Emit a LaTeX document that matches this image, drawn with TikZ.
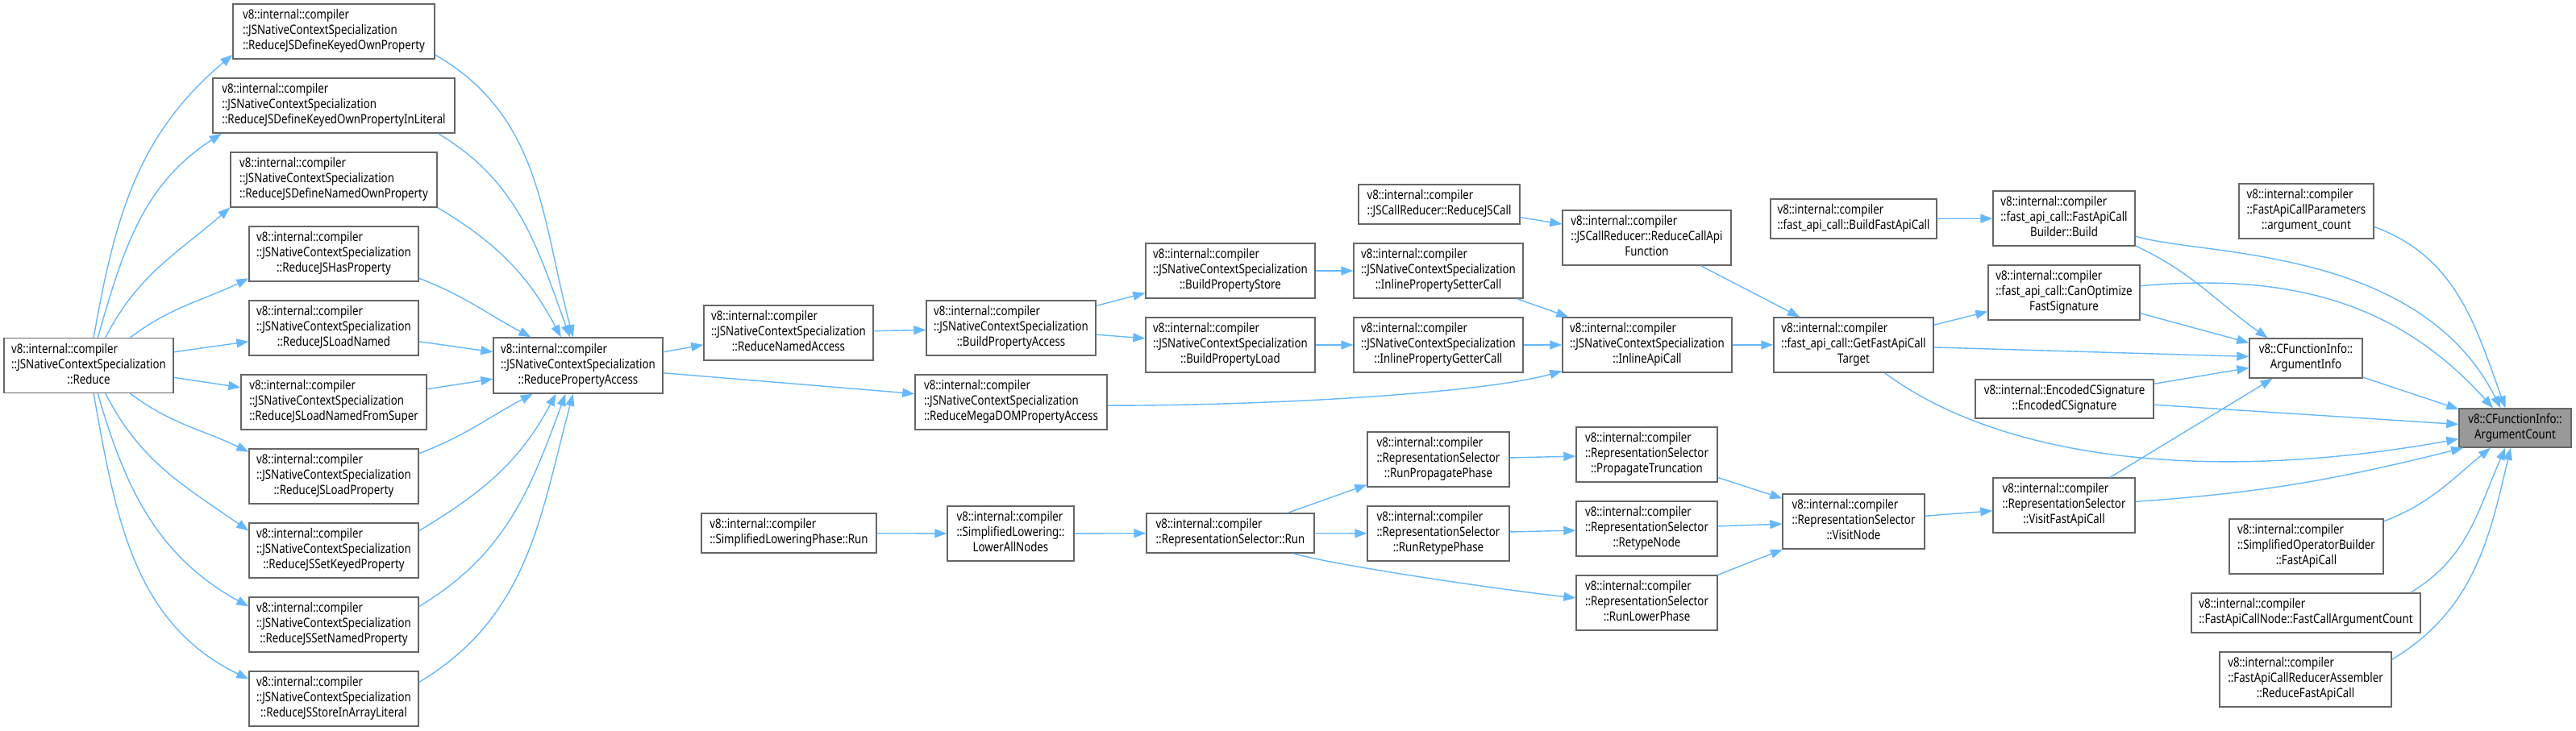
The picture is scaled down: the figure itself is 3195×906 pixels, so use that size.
\documentclass[tikz,border=0pt]{standalone}
\usepackage{fontspec}
\setmainfont[FakeStretch=0.83]{Noto Sans}
\usetikzlibrary{arrows.meta}
\definecolor{edgeblue}{HTML}{63B8FF}
\definecolor{boxline}{HTML}{666666}
\definecolor{curfill}{HTML}{999999}
\newcommand{\fnthree}[3]{\begin{tabular}{@{}l@{}}#1\\#2\\\multicolumn{1}{@{}c@{}}{#3}\end{tabular}}
\newcommand{\fntwo}[2]{\begin{tabular}{@{}l@{}}#1\\\multicolumn{1}{@{}c@{}}{#2}\end{tabular}}
\newcommand{\vic}{v8::internal::compiler}
\newcommand{\jsncs}{::JSNativeContextSpecialization}
\newcommand{\repsel}{::RepresentationSelector}
\begin{document}
\begin{tikzpicture}[x=0.5pt, y=0.5pt,
    fn/.style={draw=boxline, fill=white, line width=0.7pt, inner sep=0pt, minimum height=34pt, font=\fontsize{8}{9.5}\selectfont},
    fnlow/.style={fn, minimum height=24.5pt},
    fncur/.style={fnlow, fill=curfill},
    calledge/.style={draw=edgeblue, line width=0.7pt, -{Triangle[length=7.5pt,width=5.5pt]}}]
    \useasboundingbox (0,0) rectangle (3195,-906);
    \node[fn, minimum width=105pt] (reduce) at (110,-453.5) {\fnthree{\vic}{\jsncs}{::Reduce}};
    \node[fn, minimum width=125pt] (defKeyed) at (414,-39) {\fnthree{\vic}{\jsncs}{::ReduceJSDefineKeyedOwnProperty}};
    \node[fn, minimum width=150pt] (defKeyedLit) at (414,-131) {\fnthree{\vic}{\jsncs}{::ReduceJSDefineKeyedOwnPropertyInLiteral}};
    \node[fn, minimum width=128pt] (defNamed) at (414,-223) {\fnthree{\vic}{\jsncs}{::ReduceJSDefineNamedOwnProperty}};
    \node[fn, minimum width=105pt] (hasProp) at (414,-315) {\fnthree{\vic}{\jsncs}{::ReduceJSHasProperty}};
    \node[fn, minimum width=105pt] (loadNamed) at (414,-407) {\fnthree{\vic}{\jsncs}{::ReduceJSLoadNamed}};
    \node[fn, minimum width=115pt] (loadSuper) at (414,-499) {\fnthree{\vic}{\jsncs}{::ReduceJSLoadNamedFromSuper}};
    \node[fn, minimum width=105pt] (loadProp) at (414,-591) {\fnthree{\vic}{\jsncs}{::ReduceJSLoadProperty}};
    \node[fn, minimum width=105pt] (setKeyed) at (414,-683) {\fnthree{\vic}{\jsncs}{::ReduceJSSetKeyedProperty}};
    \node[fn, minimum width=105pt] (setNamed) at (414,-775) {\fnthree{\vic}{\jsncs}{::ReduceJSSetNamedProperty}};
    \node[fn, minimum width=105pt] (storeArr) at (414,-867) {\fnthree{\vic}{\jsncs}{::ReduceJSStoreInArrayLiteral}};
    \node[fn, minimum width=105pt, minimum height=34.5pt] (propAccess) at (717,-453.5) {\fnthree{\vic}{\jsncs}{::ReducePropertyAccess}};
    \node[fn, minimum width=105pt] (namedAccess) at (978,-413) {\fnthree{\vic}{\jsncs}{::ReduceNamedAccess}};
    \node[fn, minimum width=119pt] (megaDom) at (1254,-499) {\fnthree{\vic}{\jsncs}{::ReduceMegaDOMPropertyAccess}};
    \node[fn, minimum width=105pt] (buildAccess) at (1254,-407) {\fnthree{\vic}{\jsncs}{::BuildPropertyAccess}};
    \node[fn, minimum width=105pt] (buildStore) at (1526,-336) {\fnthree{\vic}{\jsncs}{::BuildPropertyStore}};
    \node[fn, minimum width=105pt] (buildLoad) at (1526,-428) {\fnthree{\vic}{\jsncs}{::BuildPropertyLoad}};
    \node[fn, minimum width=105pt] (setterCall) at (1784,-336) {\fnthree{\vic}{\jsncs}{::InlinePropertySetterCall}};
    \node[fn, minimum width=105pt] (getterCall) at (1784,-428) {\fnthree{\vic}{\jsncs}{::InlinePropertyGetterCall}};
    \node[fnlow, minimum width=100pt] (jsCall) at (1785,-253.5) {\fntwo{\vic}{::JSCallReducer::ReduceJSCall}};
    \node[fn, minimum width=104.5pt] (callApi) at (2042.5,-295) {\fnthree{\vic}{::JSCallReducer::ReduceCallApi}{Function}};
    \node[fn, minimum width=105pt] (inlineApi) at (2043,-428) {\fnthree{\vic}{\jsncs}{::InlineApiCall}};
    \node[fnlow, minimum width=103pt] (buildFast) at (2299,-271.5) {\fntwo{\vic}{::fast\_api\_call::BuildFastApiCall}};
    \node[fn, minimum width=99pt] (fastTarget) at (2299,-428) {\fnthree{\vic}{::fast\_api\_call::GetFastApiCall}{Target}};
    \node[fn, minimum width=88pt] (builderBuild) at (2560,-271) {\fnthree{\vic}{::fast\_api\_call::FastApiCall}{Builder::Build}};
    \node[fn, minimum width=94pt] (canOpt) at (2560,-363) {\fnthree{\vic}{::fast\_api\_call::CanOptimize}{FastSignature}};
    \node[fnlow, minimum width=110.5pt, minimum height=24pt] (encSig) at (2560.5,-495) {\fntwo{v8::internal::EncodedCSignature}{::EncodedCSignature}};
    \node[fn, minimum width=88pt] (visitFast) at (2560,-627) {\fnthree{\vic}{\repsel}{::VisitFastApiCall}};
    \node[fn, minimum width=83.5pt] (paramCount) at (2860.5,-262) {\fnthree{\vic}{::FastApiCallParameters}{::argument\_count}};
    \node[fnlow, minimum width=70pt] (argInfo) at (2860,-444.5) {\fntwo{v8::CFunctionInfo::}{ArgumentInfo}};
    \node[fn, minimum width=95.5pt] (simpOp) at (2860.5,-678) {\fnthree{\vic}{::SimplifiedOperatorBuilder}{::FastApiCall}};
    \node[fnlow, minimum width=142pt] (fastCallCnt) at (2860,-760.5) {\fntwo{\vic}{::FastApiCallNode::FastCallArgumentCount}};
    \node[fn, minimum width=106.5pt] (reduceFast) at (2859.5,-843) {\fnthree{\vic}{::FastApiCallReducerAssembler}{::ReduceFastApiCall}};
    \node[fncur, minimum width=69.5pt, minimum height=24pt] (argCount) at (3119.5,-531) {\fntwo{v8::CFunctionInfo::}{ArgumentCount}};
    \node[fnlow, minimum width=108.5pt] (lowPhase) at (978.5,-661.5) {\fntwo{\vic}{::SimplifiedLoweringPhase::Run}};
    \node[fn, minimum width=78.5pt] (lowerAll) at (1253.5,-662) {\fnthree{\vic}{::SimplifiedLowering::}{LowerAllNodes}};
    \node[fnlow, minimum width=104pt] (rsRun) at (1526,-661.5) {\fntwo{\vic}{::RepresentationSelector::Run}};
    \node[fn, minimum width=88pt] (runProp) at (1784,-570) {\fnthree{\vic}{\repsel}{::RunPropagatePhase}};
    \node[fn, minimum width=88pt] (runRetype) at (1784,-662) {\fnthree{\vic}{\repsel}{::RunRetypePhase}};
    \node[fn, minimum width=87.5pt] (propTrunc) at (2042.5,-564) {\fnthree{\vic}{\repsel}{::PropagateTruncation}};
    \node[fn, minimum width=87.5pt] (retype) at (2042.5,-656) {\fnthree{\vic}{\repsel}{::RetypeNode}};
    \node[fn, minimum width=87.5pt] (runLower) at (2042.5,-748) {\fnthree{\vic}{\repsel}{::RunLowerPhase}};
    \node[fn, minimum width=88pt] (visitNode) at (2299,-647) {\fnthree{\vic}{\repsel}{::VisitNode}};
    \draw[calledge] (reduce.80) to[out=80, in=220] (defKeyed.193);
    \draw[calledge] (reduce.72) to[out=74, in=213] (defKeyedLit.194);
    \draw[calledge] (reduce.59) to[out=63, in=221] (defNamed.195);
    \draw[calledge] (reduce.34) to[out=37, in=206] (hasProp.196);
    \draw[calledge] (reduce.9) -- (loadNamed.189);
    \draw[calledge] (reduce.-8) -- (loadSuper.171);
    \draw[calledge] (reduce.-34) to[out=-37, in=154] (loadProp.164);
    \draw[calledge] (reduce.-59) to[out=-63, in=145] (setKeyed.167);
    \draw[calledge] (reduce.-72) to[out=-74, in=151] (setNamed.168);
    \draw[calledge] (reduce.-80) to[out=-80, in=154] (storeArr.167);
    \draw[calledge] (defKeyed.-13) to[out=-30, in=105] (propAccess.100);
    \draw[calledge] (defKeyedLit.-15) to[out=-31, in=110] (propAccess.106);
    \draw[calledge] (defNamed.-15) to[out=-31, in=118] (propAccess.121);
    \draw[calledge] (hasProp.-16) to[out=-21, in=152] (propAccess.149);
    \draw[calledge] (loadNamed.-9) -- (propAccess.171);
    \draw[calledge] (loadSuper.8) -- (propAccess.189);
    \draw[calledge] (loadProp.15) to[out=21, in=208] (propAccess.212);
    \draw[calledge] (setKeyed.13) to[out=31, in=242] (propAccess.232);
    \draw[calledge] (setNamed.12) to[out=31, in=250] (propAccess.246);
    \draw[calledge] (storeArr.11) to[out=31, in=255] (propAccess.260);
    \draw[calledge] (propAccess.9) -- (namedAccess.188);
    \draw[calledge] (propAccess.-5) -- (megaDom.175);
    \draw[calledge] (namedAccess) -- (buildAccess);
    \draw[calledge] (buildAccess) -- (buildStore);
    \draw[calledge] (buildAccess) -- (buildLoad);
    \draw[calledge] (buildStore) -- (setterCall);
    \draw[calledge] (buildLoad) -- (getterCall);
    \draw[calledge] (setterCall) -- (inlineApi);
    \draw[calledge] (getterCall) -- (inlineApi);
    \draw[calledge] (megaDom.-2) .. controls +(200,0) and +(-100,-28) .. (inlineApi.197);
    \draw[calledge] (jsCall) -- (callApi);
    \draw[calledge] (callApi) -- (fastTarget);
    \draw[calledge] (inlineApi) -- (fastTarget);
    \draw[calledge] (buildFast) -- (builderBuild);
    \draw[calledge] (fastTarget) -- (canOpt);
    \draw[calledge] (fastTarget) -- (argInfo);
    \draw[calledge] (fastTarget.-42) .. controls +(150,-111) and +(-300,-54) .. (argCount.191);
    \draw[calledge] (builderBuild.-21) to[out=-25, in=145] (argInfo.152);
    \draw[calledge] (builderBuild.-14) .. controls +(82,-25) and +(-102,202) .. (argCount.126);
    \draw[calledge] (canOpt) -- (argInfo);
    \draw[calledge] (canOpt.5) to[out=5, in=132] (argCount.138);
    \draw[calledge] (encSig) -- (argInfo);
    \draw[calledge] (encSig) -- (argCount);
    \draw[calledge] (visitFast) -- (argInfo);
    \draw[calledge] (visitFast.3) to[out=4, in=194] (argCount.201);
    \draw[calledge] (paramCount.-13) to[out=-20, in=110] (argCount.116);
    \draw[calledge] (argInfo) -- (argCount);
    \draw[calledge] (simpOp.18) to[out=21, in=219] (argCount.219);
    \draw[calledge] (fastCallCnt.11) to[out=31, in=246] (argCount.244);
    \draw[calledge] (reduceFast.13) to[out=31, in=257] (argCount.257);
    \draw[calledge] (lowPhase) -- (lowerAll);
    \draw[calledge] (lowerAll) -- (rsRun);
    \draw[calledge] (rsRun) -- (runProp);
    \draw[calledge] (rsRun) -- (runRetype);
    \draw[calledge] (rsRun.-18) to[out=-15, in=174, looseness=0.5] (runLower.176);
    \draw[calledge] (runProp) -- (propTrunc);
    \draw[calledge] (runRetype) -- (retype);
    \draw[calledge] (propTrunc) -- (visitNode);
    \draw[calledge] (retype) -- (visitNode);
    \draw[calledge] (runLower) -- (visitNode);
    \draw[calledge] (visitNode) -- (visitFast);
\end{tikzpicture}
\end{document}
